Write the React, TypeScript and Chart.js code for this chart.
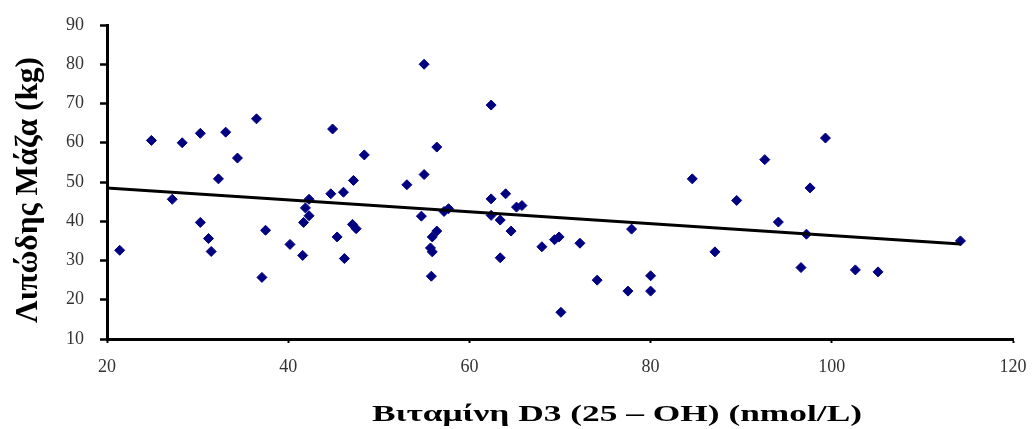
import React, { useEffect, useRef } from "react";
import { Chart, registerables } from "chart.js";

Chart.register(...registerables);

// Vitamin D3 (25-OH) values, nmol/L
const vitaminD = [
  21.4, 24.9, 28.3, 27.2, 30.3, 33.1, 36.5, 34.4, 32.3, 30.3, 31.2, 31.5,
  37.1, 37.5, 40.2, 41.6, 41.7, 41.9, 42.3, 42.3, 44.9, 44.7, 46.1, 47.2,
  48.4, 45.4, 46.2, 47.1, 47.5, 53.1, 55.0, 55.0, 54.7, 56.4, 57.2, 57.7,
  55.9, 56.4, 55.7, 55.9, 55.8, 62.4, 62.4, 64.0, 62.4, 63.4, 65.2, 65.8,
  64.6, 63.4, 68.0, 69.4, 69.9, 70.1, 72.2, 74.1, 77.5, 80.0, 80.0, 77.9,
  84.6, 87.1, 89.5, 92.6, 94.1, 96.6, 97.2, 97.6, 99.3, 102.6, 105.1, 114.2,
];

// Fat mass values, kg
const fatMass = [
  32.6, 60.6, 60.0, 45.6, 62.4, 62.7, 66.1, 56.1, 50.8, 39.7, 35.6, 32.3,
  25.7, 37.7, 34.1, 31.3, 39.7, 43.4, 45.6, 41.4, 63.5, 47.0, 47.4, 50.4,
  56.9, 36.0, 30.5, 39.2, 38.1, 49.3, 80.0, 51.9, 41.3, 58.9, 42.5, 43.2,
  36.0, 37.5, 33.2, 32.2, 26.0, 69.6, 45.7, 47.0, 41.5, 40.3, 43.6, 44.0,
  37.5, 30.7, 33.5, 35.3, 36.0, 16.8, 34.4, 25.0, 22.2, 26.1, 22.2, 38.0,
  50.8, 32.2, 45.3, 55.7, 39.8, 28.2, 36.7, 48.5, 61.2, 27.6, 27.1, 35.0,
];

// Linear trend line end points
const trendX = [20, 114.2];
const trendY = [48.5, 34.2];

// Axis settings
const xRange = [20, 120];
const xStep = 20;
const yRange = [10, 90];
const yStep = 10;

const xTitle = "Βιταμίνη D3 (25 – OH) (nmol/L)";
const yTitle = "Λιπώδης Μάζα (kg)";

const titlesPlugin = {
  id: "stretchedTitles",
  afterDraw(chart: any) {
    const ctx = chart.ctx as CanvasRenderingContext2D;
    const area = chart.chartArea;
    ctx.save();
    ctx.fillStyle = "#000";
    ctx.font = "bold 23px 'Liberation Serif'";
    ctx.textAlign = "center";
    ctx.textBaseline = "alphabetic";
    const wx = ctx.measureText(xTitle).width;
    ctx.translate(617, 421);
    ctx.scale(490 / wx, 1);
    ctx.fillText(xTitle, 0, 0);
    ctx.restore();

    ctx.save();
    ctx.fillStyle = "#000";
    ctx.font = "bold 22px 'Liberation Serif'";
    ctx.textAlign = "center";
    ctx.textBaseline = "alphabetic";
    const wy = ctx.measureText(yTitle).width;
    ctx.translate(37, (area.top + area.bottom) / 2 + 8);
    ctx.rotate(-Math.PI / 2);
    ctx.scale(266 / wy, 1.45);
    ctx.fillText(yTitle, 0, 0);
    ctx.restore();
  },
};

export default function App() {
  const canvasRef = useRef<HTMLCanvasElement | null>(null);

  useEffect(() => {
    if (!canvasRef.current) return;
    const points = vitaminD.map((x, i) => ({ x, y: fatMass[i] }));
    const trend = trendX.map((x, i) => ({ x, y: trendY[i] }));
    const tickFont = { family: "'Liberation Serif'", size: 18 };

    const chart = new Chart(canvasRef.current, {
      type: "scatter",
      data: {
        datasets: [
          {
            type: "line",
            data: trend,
            borderColor: "#000",
            borderWidth: 3,
            pointRadius: 0,
            fill: false,
          } as any,
          {
            type: "scatter",
            data: points,
            pointStyle: "rectRot",
            pointRadius: 5,
            borderWidth: 1,
            backgroundColor: "#000080",
            borderColor: "#000080",
          },
        ],
      },
      options: {
        animation: false,
        responsive: false,
        devicePixelRatio: 1,
        layout: { autoPadding: false, padding: { top: 25, right: 21, left: 0, bottom: 0 } },
        plugins: {
          legend: { display: false },
          tooltip: { enabled: false },
        },
        scales: {
          x: {
            type: "linear",
            min: xRange[0],
            max: xRange[1],
            ticks: {
              stepSize: xStep,
              font: tickFont,
              color: "#333",
              padding: 13,
            },
            grid: {
              display: true,
              drawOnChartArea: false,
              drawTicks: true,
              tickLength: 4,
              tickWidth: 2,
              tickColor: "#000",
            },
            border: { display: true, color: "#000", width: 3 },
            afterFit(scale: any) {
              scale.height = 90;
              scale.paddingRight = 0;
              scale.paddingLeft = 0;
            },
          },
          y: {
            type: "linear",
            min: yRange[0],
            max: yRange[1],
            ticks: {
              stepSize: yStep,
              font: tickFont,
              color: "#333",
              padding: 16,
            },
            grid: {
              display: true,
              drawOnChartArea: false,
              drawTicks: true,
              tickLength: 7,
              tickWidth: 2.5,
              tickColor: "#000",
            },
            border: { display: true, color: "#000", width: 3 },
            afterFit(scale: any) {
              scale.width = 107;
              scale.paddingTop = 0;
              scale.paddingBottom = 0;
            },
          },
        },
      },
      plugins: [titlesPlugin],
    });
    return () => chart.destroy();
  }, []);

  return (
    <div style={{ position: "fixed", left: 0, top: 0, width: 1034, height: 429, background: "#fff" }}>
      <canvas ref={canvasRef} width={1034} height={429} style={{ display: "block" }} />
    </div>
  );
}
